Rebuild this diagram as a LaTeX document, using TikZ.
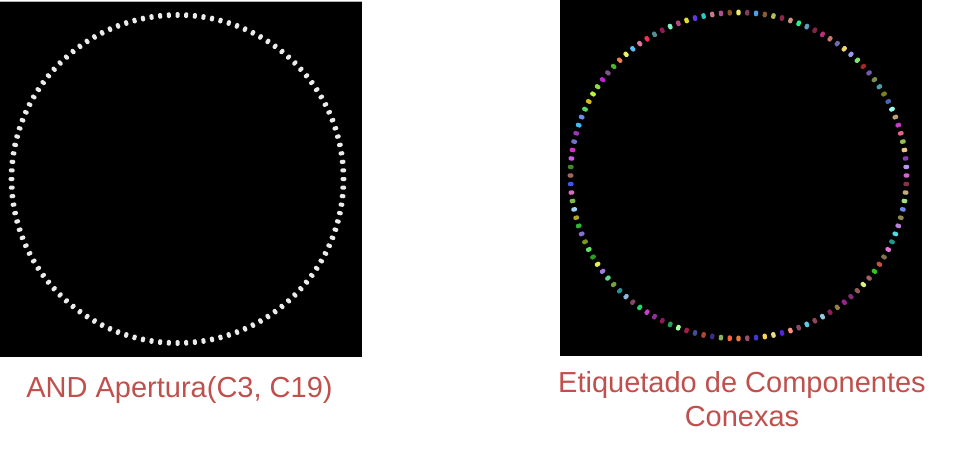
\documentclass[tikz,border=0pt]{standalone}
\usepackage{fontspec}
\setmainfont{Liberation Sans}
\definecolor{rotulo}{HTML}{C0504D}
\begin{document}
\begin{tikzpicture}[x=1pt, y=-1pt,
    rotulo/.style={text=rotulo, font=\fontsize{29}{34}\selectfont, inner sep=0pt},
    fondo/.style={fill=black},
    punto/.style={rounded corners=1.2pt}]
    \useasboundingbox (0,0) rectangle (954,452);

    % Imagenes
    \fill[fondo] (0,2) rectangle (362,357);
    \draw[gray!60, line width=1pt] (0,1.5) -- (362,1.5);
    \fill[fondo] (560,0) rectangle (922,356);

    % Apertura: puntos blancos
    \foreach \a in {0,3,...,357} {
        \begin{scope}[shift={(177.5,179)}, shift={(\a:166 and 164)}, rotate=-\a]
            \fill[white!92!black, punto] (-2.8,-2) rectangle (2.8,2);
        \end{scope}
    }

    % Etiquetado: puntos de colores
    \pgfmathsetseed{17}
    \foreach \a in {0,3,...,357} {
        \pgfmathsetmacro\h{rnd}
        \pgfmathsetmacro\s{0.35+0.5*rnd}
        \pgfmathsetmacro\b{0.5+0.5*rnd}
        \definecolor{etiqueta}{hsb}{\h,\s,\b}
        \begin{scope}[shift={(738.5,175.5)}, shift={(\a:168 and 163)}, rotate=-\a]
            \fill[etiqueta, punto] (-2.8,-2.1) rectangle (2.8,2.1);
        \end{scope}
    }

    % Rotulos
    \node[rotulo, anchor=base] (apertura) at (179.5,397.3) {AND Apertura(C3, C19)};
    \node[rotulo, anchor=base, align=center] (etiquetado) at (742,426.7) {Etiquetado de Componentes\\Conexas};
\end{tikzpicture}
\end{document}
